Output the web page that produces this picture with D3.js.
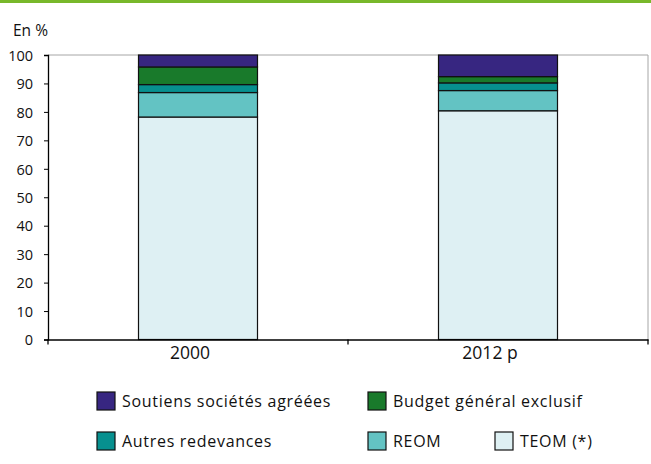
<!DOCTYPE html>
<html><head><meta charset="utf-8">
<script src="https://cdn.jsdelivr.net/npm/d3@7"></script>
<style>
body{margin:0;background:#fff;}
svg text{font-family:"Open Sans","Noto Sans",sans-serif;fill:#111;}
</style></head>
<body><svg id="c" width="651" height="464"></svg>
<script>
const years = ["2000", "2012 p"];
const seriesNames = ["TEOM (*)", "REOM", "Autres redevances", "Budget général exclusif", "Soutiens sociétés agréées"];
const teom = [78.2, 80.4];
const reom = [8.6, 7.1];
const autres = [2.8, 2.7];
const budget = [6.2, 2.2];
const soutiens = [4.2, 7.6];
const yTicks = [0,10,20,30,40,50,60,70,80,90,100];
const colors = ["#def0f3", "#63c3c3", "#07908f", "#197a2b", "#372681"];

const rows = years.map((y,i)=>({year:y, "TEOM (*)":teom[i], "REOM":reom[i], "Autres redevances":autres[i], "Budget général exclusif":budget[i], "Soutiens sociétés agréées":soutiens[i]}));

const svg = d3.select("#c");
svg.append("rect").attr("x",0).attr("y",0).attr("width",651).attr("height",3).attr("fill","#78b82a");

const L=48, R=648, T=55, B=339.5;
const x = d3.scaleBand().domain(years).range([L,R]).paddingInner(0).paddingOuter(0);
const y = d3.scaleLinear().domain([0,100]).range([B,T]);
const barW = 119;

svg.append("path").attr("d",`M${L},${T}H${R}V${B}`).attr("fill","none").attr("stroke","#a6a6a6").attr("stroke-width",1);

const stack = d3.stack().keys(seriesNames)(rows);
const g = svg.append("g");
stack.forEach((s,si)=>{
  g.selectAll(null).data(s).enter().append("rect")
    .attr("x",d=>x(d.data.year)+x.bandwidth()/2-barW/2)
    .attr("width",barW)
    .attr("y",d=>y(d[1]))
    .attr("height",d=>y(d[0])-y(d[1]))
    .attr("fill",colors[si]).attr("stroke","#111").attr("stroke-width",1.2);
});

const ya = svg.append("g").attr("transform",`translate(${L},0)`)
  .call(d3.axisLeft(y).tickValues(yTicks).tickSize(4).tickPadding(11));
ya.select(".domain").attr("stroke","#000").attr("stroke-width",1.3);
ya.selectAll("line").attr("stroke","#000");
ya.selectAll("text").style("font-size","14.5px").attr("dy","0.36em");

const xa = svg.append("g").attr("transform",`translate(0,${B})`)
  .call(d3.axisBottom(x).tickSize(0).tickPadding(6));
xa.select(".domain").attr("stroke","#000").attr("stroke-width",1.3);
xa.selectAll("text").style("font-size","17.5px").attr("y",19.5).attr("dy","0").attr("dx",-8);
const edges = [L, x(years[1]), R];
svg.append("g").selectAll("line").data(edges).enter().append("line")
  .attr("x1",d=>d).attr("x2",d=>d).attr("y1",B).attr("y2",B+5).attr("stroke","#000").attr("stroke-width",1.3);

svg.append("text").attr("x",13).attr("y",35.5).style("font-size","15.5px").text("En %");

const legendItems = [
  {name:"Soutiens sociétés agréées", c:4, x:97, y:392},
  {name:"Budget général exclusif", c:3, x:368, y:392},
  {name:"Autres redevances", c:2, x:97, y:432},
  {name:"REOM", c:1, x:368, y:432},
  {name:"TEOM (*)", c:0, x:495, y:432}
];
const lg = svg.append("g").selectAll("g").data(legendItems).enter().append("g");
lg.append("rect").attr("x",d=>d.x).attr("y",d=>d.y).attr("width",18).attr("height",18)
  .attr("fill",d=>colors[d.c]).attr("stroke","#111").attr("stroke-width",1.2);
lg.append("text").attr("x",d=>d.x+25).attr("y",d=>d.y+14.5).style("font-size","16px").style("letter-spacing","0.7px").text(d=>d.name);
</script></body></html>
